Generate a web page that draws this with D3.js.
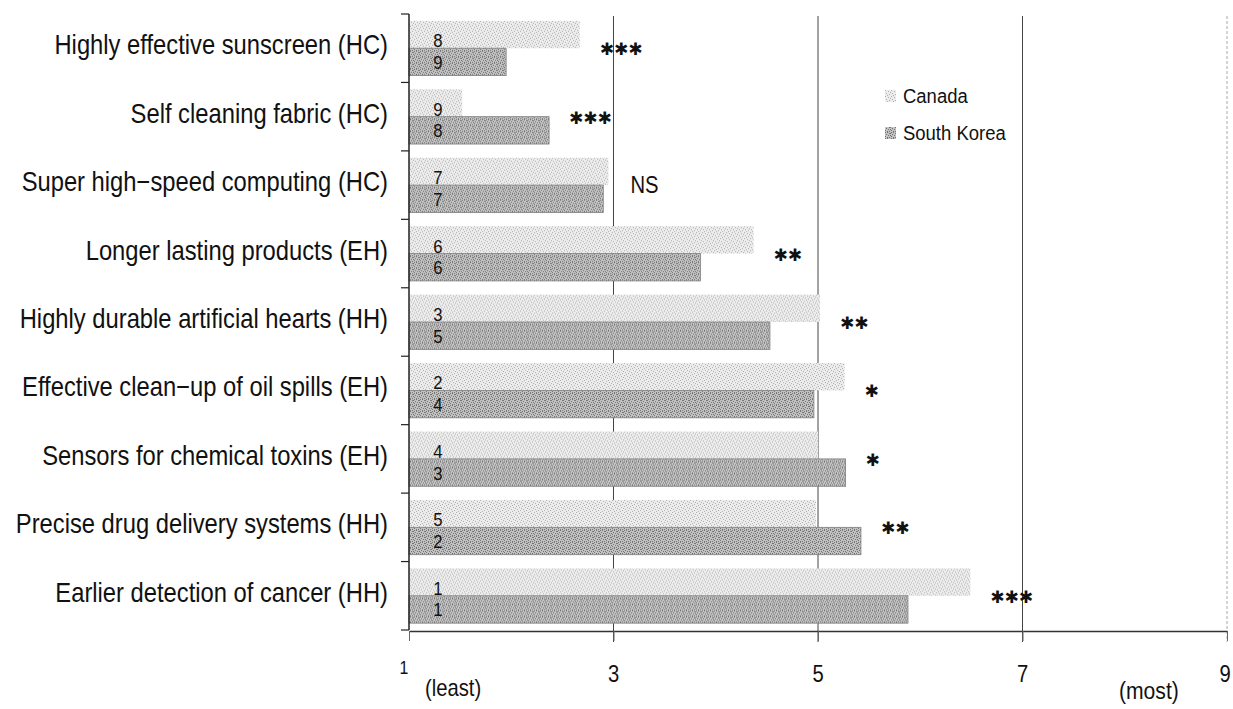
<!DOCTYPE html>
<html>
<head>
<meta charset="utf-8">
<script src="https://cdn.jsdelivr.net/npm/d3@7"></script>
<style>
  body { margin: 0; background: #fff; }
  text { font-family: "Liberation Sans", Arial, sans-serif; fill: #111; }
</style>
</head>
<body>
<svg id="chart" width="1233" height="709"></svg>
<script>
// Technologies rated for importance (1 = least, 9 = most)
const categories = [
  "Highly effective sunscreen (HC)",
  "Self cleaning fabric (HC)",
  "Super high\u2212speed computing (HC)",
  "Longer lasting products (EH)",
  "Highly durable artificial hearts (HH)",
  "Effective clean\u2212up of oil spills (EH)",
  "Sensors for chemical toxins (EH)",
  "Precise drug delivery systems (HH)",
  "Earlier detection of cancer (HH)"
];
const canada     = [2.67, 1.52, 2.95, 4.37, 5.02, 5.26, 5.00, 4.98, 6.49];
const southKorea = [1.95, 2.37, 2.90, 3.85, 4.53, 4.96, 5.27, 5.42, 5.88];
const canadaRank = [8, 9, 7, 6, 3, 2, 4, 5, 1];
const koreaRank  = [9, 8, 7, 6, 5, 4, 3, 2, 1];
const significance = ["***", "***", "NS", "**", "**", "*", "*", "**", "***"];
const xTicks = [1, 3, 5, 7, 9];
const seriesNames = ["Canada", "South Korea"];

const NARROW = 0.88; // horizontal squeeze giving the condensed lettering

const svg = d3.select("#chart");
const defs = svg.append("defs");

// condensed text placed at (x, y)
function narrowText(sel, x, y) {
  return sel.attr("x", 0).attr("y", 0)
    .attr("transform", (d, i) => `translate(${typeof x === "function" ? x(d, i) : x},${typeof y === "function" ? y(d, i) : y}) scale(${NARROW},1)`);
}

// stippled fills for the two series
function stipple(id, base, dot, cells) {
  const p = defs.append("pattern").attr("id", id)
    .attr("width", 6).attr("height", 6).attr("patternUnits", "userSpaceOnUse");
  p.append("rect").attr("width", 6).attr("height", 6).attr("fill", base);
  cells.forEach(([cx, cy]) => p.append("rect").attr("x", cx).attr("y", cy)
    .attr("width", 1).attr("height", 1).attr("fill", dot));
}
stipple("fillCanada", "#ececec", "#b0b0b0", [[0,0],[3,1],[1,3],[4,4],[5,2],[2,5]]);
stipple("fillKorea", "#c2c2c2", "#737373", [[0,0],[2,0],[4,1],[1,2],[3,3],[5,3],[0,4],[2,5],[4,5],[5,1]]);

const x = d3.scaleLinear().domain([1, 9]).range([409, 1227]);
const y = d3.scaleBand().domain(categories).range([14, 630]).paddingInner(0.2).paddingOuter(0.1);
const sub = d3.scaleBand().domain(seriesNames).range([0, y.bandwidth()]).padding(0);

// vertical reference lines
svg.append("g").selectAll("line").data(xTicks.slice(1)).join("line")
  .attr("x1", d => x(d)).attr("x2", d => x(d))
  .attr("y1", 16).attr("y2", 642)
  .attr("stroke", d => d === 9 ? "#aaa" : "#444")
  .attr("stroke-width", 1)
  .attr("stroke-dasharray", d => d === 9 ? "3,2" : null);

const rows = categories.map((c, i) => ({
  cat: c, vals: [canada[i], southKorea[i]], ranks: [canadaRank[i], koreaRank[i]], sig: significance[i]
}));

const g = svg.append("g").selectAll("g").data(rows).join("g")
  .attr("transform", d => `translate(0,${y(d.cat)})`);

g.selectAll("rect").data(d => d.vals.map((v, k) => ({ v, k }))).join("rect")
  .attr("x", x(1))
  .attr("y", d => sub(seriesNames[d.k]))
  .attr("width", d => x(d.v) - x(1))
  .attr("height", sub.bandwidth())
  .attr("fill", d => d.k === 0 ? "url(#fillCanada)" : "url(#fillKorea)")
  .attr("stroke", d => d.k === 0 ? "none" : "#808080")
  .attr("stroke-width", 0.8);

g.selectAll("text.rank").data(d => d.ranks.map((r, k) => ({ r, k }))).join("text")
  .attr("class", "rank")
  .attr("text-anchor", "middle")
  .style("font-size", "19px")
  .call(narrowText, x(1) + 29, d => d.k === 0 ? sub.bandwidth() - 1 : sub(seriesNames[1]) + sub.bandwidth() / 2 + 7)
  .text(d => d.r);

// significance markers beside each pair of bars
g.append("text")
  .attr("x", d => x(d3.max(d.vals)) + (d.sig === "NS" ? 22 : 20))
  .attr("y", d => y.bandwidth() / 2 + (d.sig === "NS" ? 8 : 7))
  .style("font-size", d => d.sig === "NS" ? "23px" : "17px")
  .style("font-family", d => d.sig === "NS" ? null : "DejaVu Sans")
  .attr("transform", d => d.sig === "NS" ? `translate(${x(d3.max(d.vals)) + 22},0) scale(${NARROW},1) translate(${-(x(d3.max(d.vals)) + 22)},0)` : null)
  .text(d => d.sig === "NS" ? "NS" : d.sig.replace(/\*/g, "\u2731"));

// category labels
svg.append("g").selectAll("text").data(categories).join("text")
  .attr("text-anchor", "end")
  .style("font-size", "27px")
  .call(narrowText, 388, d => y(d) + y.bandwidth() / 2 + 6)
  .text(d => d);

// left axis with ticks between categories
const yAxis = svg.append("g");
yAxis.append("line").attr("x1", x(1)).attr("x2", x(1)).attr("y1", 14).attr("y2", 630)
  .attr("stroke", "#222").attr("stroke-width", 1.5);
const bounds = categories.map(c => y(c) - y.step() * y.paddingInner() / 2).concat([630]);
yAxis.selectAll("line.tick").data(bounds).join("line").attr("class", "tick")
  .attr("x1", x(1) - 8).attr("x2", x(1)).attr("y1", d => d).attr("y2", d => d)
  .attr("stroke", "#222").attr("stroke-width", 1.2);

// bottom axis
const xAxis = d3.axisBottom(x).tickValues(xTicks).tickSize(10).tickSizeOuter(0).tickFormat("");
const xg = svg.append("g").attr("transform", "translate(0,631)").call(xAxis);
xg.select(".domain").attr("stroke", "#333").attr("stroke-width", 1.5);
xg.selectAll(".tick line").attr("stroke", "#666");

svg.append("g").selectAll("text").data(xTicks).join("text")
  .attr("text-anchor", "middle")
  .style("font-size", d => d === 1 ? "18px" : "23px")
  .call(narrowText, d => x(d) - (d === 1 ? 5 : d === 9 ? 2 : 0), d => d === 1 ? 674 : 682)
  .text(d => d);

svg.append("g").append("text").style("font-size", "23px")
  .call(narrowText, x(1) + 16, 696).text("(least)");
svg.append("g").append("text").style("font-size", "24px")
  .call(narrowText, x(9) - 108, 699).text("(most)");

// legend
const legend = svg.append("g").attr("transform", "translate(885,96)");
seriesNames.forEach((s, i) => {
  legend.append("rect").attr("x", 0).attr("y", i * 37 - 6).attr("width", 11).attr("height", 12)
    .attr("fill", i === 0 ? "url(#fillCanada)" : "url(#fillKorea)");
  legend.append("text").style("font-size", "21px")
    .call(narrowText, 18, i * 37 + 7).text(s);
});
</script>
</body>
</html>
